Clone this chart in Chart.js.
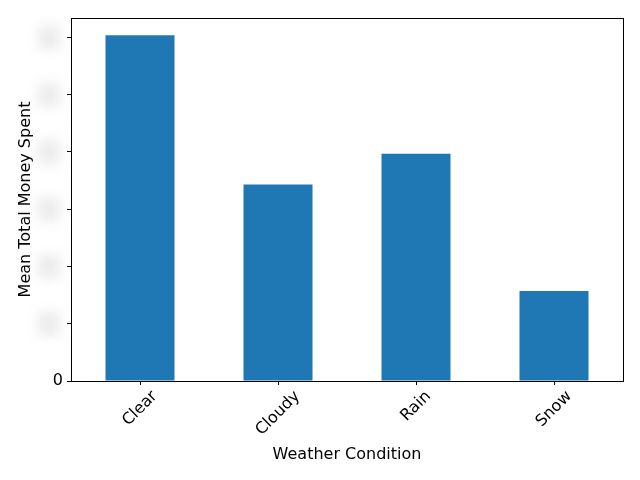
<!DOCTYPE html>
<html>
<head>
<meta charset="utf-8">
<script src="https://cdn.jsdelivr.net/npm/chart.js@4"></script>
<style>
  html, body { margin: 0; padding: 0; background: #fff; }
  #wrap { width: 640px; height: 480px; }
</style>
</head>
<body>
<div id="wrap"><canvas id="chart" width="640" height="480"></canvas></div>
<script>
// values (tick labels are blurred in the source, so units are tick steps)
const conditions = ["Clear", "Cloudy", "Rain", "Snow"];
const meanSpent = [6.04, 3.43, 3.97, 1.57];
const yMax = 6.34;

const FONT = "'DejaVu Sans', sans-serif";
const FS = 16;

// frame round the plot area, matplotlib style
const framePlugin = {
    id: "frame",
    afterDraw(chart) {
        const { ctx, chartArea: a } = chart;
        ctx.save();
        ctx.strokeStyle = "#000";
        ctx.lineWidth = 1;
        ctx.strokeRect(a.left + 0.5, a.top + 0.5, a.right - a.left, a.bottom - a.top);
        ctx.restore();
    }
};

// y labels are smudged out in the reference: draw a soft grey blob for each non-zero tick
const blurTicks = {
    id: "blurTicks",
    afterDraw(chart) {
        const { ctx } = chart;
        const y = chart.scales.y;
        ctx.save();
        ctx.filter = "blur(6px)";
        ctx.fillStyle = "#ececec";
        y.ticks.forEach((t) => {
            if (t.value === 0 || !Number.isInteger(t.value)) return;
            const py = y.getPixelForValue(t.value);
            ctx.fillRect(38, py - 12, 22, 24);
        });
        ctx.restore();
    }
};

// rotated x labels centred under the tick, like matplotlib's rotation=45
const xLabels = {
    id: "xLabels",
    afterDraw(chart) {
        const { ctx } = chart;
        const x = chart.scales.x;
        ctx.save();
        ctx.font = FS + "px " + FONT;
        ctx.fillStyle = "#000";
        ctx.textAlign = "center";
        ctx.textBaseline = "middle";
        const top = chart.chartArea.bottom + 8;
        x.ticks.forEach((t, i) => {
            const px = x.getPixelForTick(i);
            const label = conditions[i];
            const w = ctx.measureText(label).width;
            const h = FS * 0.85;
            const half = (w + h) * Math.SQRT1_2 / 2;
            ctx.save();
            ctx.translate(px, top + half);
            ctx.rotate(-Math.PI / 4);
            ctx.fillText(label, 0, 0);
            ctx.restore();
        });
        ctx.restore();
    }
};

new Chart(document.getElementById("chart"), {
    type: "bar",
    data: {
        labels: conditions,
        datasets: [{
            label: "Mean Total Money Spent",
            data: meanSpent,
            backgroundColor: "#1f77b4",
            borderWidth: 0,
            inflateAmount: 0,
            barPercentage: 0.5,
            categoryPercentage: 1.0
        }]
    },
    options: {
        responsive: false,
        animation: false,
        devicePixelRatio: 1,
        layout: { padding: { top: 18, right: 17, left: 0, bottom: 0 } },
        plugins: {
            legend: { display: false },
            tooltip: { enabled: false }
        },
        scales: {
            x: {
                grid: {
                    display: true,
                    offset: false,
                    drawOnChartArea: false,
                    drawTicks: true,
                    tickLength: 4,
                    color: "#000"
                },
                border: { display: false },
                ticks: { display: false },
                title: {
                    display: true,
                    text: "Weather Condition",
                    color: "#000",
                    font: { family: FONT, size: FS },
                    padding: { top: 0, bottom: 16 }
                },
                afterFit(scale) { scale.height = 99; }
            },
            y: {
                min: 0,
                max: yMax,
                grid: {
                    display: true,
                    drawOnChartArea: false,
                    drawTicks: true,
                    tickLength: 4,
                    color: "#000"
                },
                border: { display: false },
                afterBuildTicks(scale) {
                    scale.ticks = scale.ticks.filter((t) => Number.isInteger(t.value));
                },
                ticks: {
                    stepSize: 1,
                    color: "#000",
                    font: { family: FONT, size: FS },
                    padding: 4,
                    callback: (v) => (v === 0 ? "0" : "")
                },
                title: {
                    display: true,
                    text: "Mean Total Money Spent",
                    color: "#000",
                    font: { family: FONT, size: FS },
                    padding: { top: 16, bottom: 0 }
                },
                afterFit(scale) { scale.width = 71; }
            }
        }
    },
    plugins: [framePlugin, blurTicks, xLabels]
});
</script>
</body>
</html>
